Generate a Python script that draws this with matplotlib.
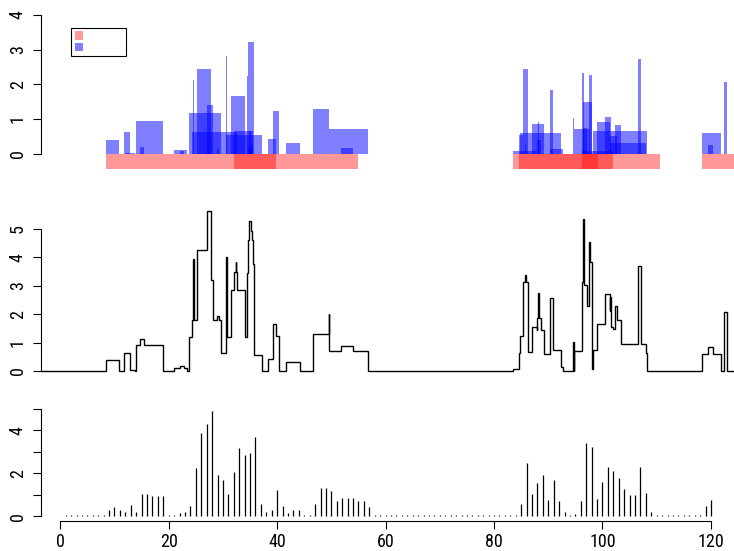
import numpy as np
import matplotlib
matplotlib.use("Agg")
import matplotlib.pyplot as plt
from matplotlib import font_manager
from matplotlib.patches import Patch

# intervals (start, end, score) drawn as translucent boxes
blue_start = [8.42, 11.74, 11.93, 13.95, 14.64, 20.96, 22.06, 23.67, 24.30, 24.41,
              25.14, 27.10, 28.83, 30.49, 30.49, 31.47, 32.07, 32.39, 34.36, 34.60,
              34.65, 34.84, 35.21, 38.29, 39.15, 41.60, 46.58, 49.53, 51.74,
              83.45, 84.55, 84.73, 85.35, 85.66, 86.95, 88.00, 88.06, 90.32, 90.25,
              94.56, 94.82, 96.22, 96.41, 96.41, 97.51, 96.22, 98.32, 99.06, 100.46,
              101.30, 101.40, 102.38, 106.62,
              118.29, 119.39, 122.33]
blue_end = [10.82, 12.85, 13.71, 18.93, 15.43, 23.30, 22.80, 29.72, 32.63, 24.59,
            27.78, 28.10, 29.31, 30.67, 37.24, 34.05, 35.52, 32.50, 34.60, 35.71,
            35.52, 35.21, 35.39, 39.76, 40.37, 44.18, 49.62, 56.72, 53.95,
            87.87, 85.35, 92.29, 86.21, 85.82, 89.15, 88.73, 88.22, 90.95, 92.66,
            94.78, 97.77, 96.67, 98.14, 97.14, 98.14, 101.88, 108.28, 101.30, 101.64,
            108.09, 102.75, 103.41, 107.04,
            121.79, 120.31, 122.89]
blue_height = [0.40, 0.63, 0.02, 0.93, 0.18, 0.11, 0.07, 1.18, 0.63, 2.12,
               2.44, 1.40, 0.14, 2.82, 0.55, 1.66, 0.65, 0.36, 2.24, 3.22,
               0.20, 0.65, 0.30, 0.42, 1.23, 0.31, 1.29, 0.71, 0.16,
               0.08, 0.54, 0.60, 2.44, 0.25, 0.86, 0.39, 0.91, 1.84, 0.13,
               1.03, 0.71, 2.33, 1.49, 0.75, 2.27, 0.08, 0.65, 0.91, 1.06,
               0.31, 0.51, 0.83, 2.73,
               0.60, 0.25, 2.07]

# regions drawn under the baseline
red_start = [8.42, 32.02, 83.45, 84.55, 96.20, 118.29]
red_end = [54.88, 39.76, 110.55, 101.90, 99.10, 124.90]

# per-position values
bin_pos = list(range(1, 121))
bin_value = [0.07, 0.07, 0.07, 0.07, 0.07, 0.07, 0.07, 0.07,
             0.28, 0.42, 0.31, 0.23, 0.52, 0.19, 1.05, 1.02, 0.96, 0.96, 0.93,
             0.07, 0.07,
             0.14, 0.19, 0.49, 2.27, 3.87, 4.29, 4.91, 1.91, 1.67, 1.06, 2.04,
             3.19, 2.85, 2.95, 3.69, 0.56, 0.22, 0.29, 1.23, 0.48, 0.17, 0.32, 0.32,
             0.07, 0.07,
             0.56, 1.30, 1.30, 1.16, 0.73, 0.85, 0.88, 0.86, 0.73, 0.73, 0.43,
             0.07, 0.07, 0.07, 0.07, 0.07, 0.07, 0.07, 0.07, 0.07, 0.07, 0.07, 0.07, 0.07,
             0.07, 0.07, 0.07, 0.07, 0.07, 0.07, 0.07, 0.07, 0.07, 0.07, 0.07, 0.07, 0.07,
             0.09, 0.59, 2.50, 1.06, 1.56, 1.93, 0.77, 1.70, 0.74, 0.19,
             0.07,
             0.12, 0.73, 3.41, 3.21, 0.82, 1.60, 2.28, 2.11, 1.79, 1.27, 1.00, 1.00,
             2.31, 1.08, 0.19,
             0.07, 0.07, 0.07, 0.07, 0.07, 0.07, 0.07, 0.07, 0.07,
             0.48, 0.76]

XLIM = (-3.61, 124.9)

# prefer a narrow sans for the tick numbers
names = {f.name for f in font_manager.fontManager.ttflist}
fam, fsize = "Liberation Sans", 12
for cand, size in [("Liberation Sans Narrow", 13), ("DejaVu Sans Condensed", 12.5),
                   ("Roboto Condensed", 13)]:
    if cand in names:
        fam, fsize = cand, size
        break
plt.rcParams["font.family"] = [fam, "DejaVu Sans"]

W, H = 734, 551
fig = plt.figure(figsize=(W / 100, H / 100), dpi=100)


def panel(left, top, right, bottom):
    return fig.add_axes([left / W, 1 - bottom / H, (right - left) / W, (bottom - top) / H])


def style(ax, yticks, ylabels, ybounds):
    ax.set_xlim(*XLIM)
    for s in ("top", "right", "bottom"):
        ax.spines[s].set_visible(False)
    ax.spines["left"].set_linewidth(0.8)
    ax.spines["left"].set_bounds(*ybounds)
    ax.set_xticks([])
    ax.set_yticks(yticks)
    ax.set_yticklabels(ylabels, rotation=90, va="center")
    ax.tick_params(axis="y", length=5.5, width=0.8, pad=4.5, labelsize=fsize)


# top: boxes
ax1 = panel(40.7, 8.7, 737.5, 177.3)
rs = np.array(red_start)
re = np.array(red_end)
ax1.bar(rs, 0.44, width=re - rs, bottom=-0.44, align="edge",
        color="red", alpha=0.4, linewidth=0)
bs = np.array(blue_start)
be = np.array(blue_end)
ax1.bar(bs, blue_height, width=be - bs, align="edge",
        color="blue", alpha=0.5, linewidth=0)
ax1.set_ylim(-0.68, 4.18)
style(ax1, [0, 1, 2, 3, 4], ["0", "1", "2", "3", "4"], (0, 4))
leg = ax1.legend([Patch(facecolor="red", alpha=0.4, edgecolor="none"),
                  Patch(facecolor="blue", alpha=0.5, edgecolor="none")],
                 ["", ""], loc="upper left",
                 bbox_to_anchor=(71.3 / W, 1 - 28 / H), bbox_transform=fig.transFigure,
                 borderaxespad=0, fontsize=8, handlelength=0.78, handleheight=0.78,
                 handletextpad=3.5, borderpad=0.31, labelspacing=0.1,
                 fancybox=False, framealpha=1, edgecolor="black")
leg.get_frame().set_linewidth(0.8)

# middle: summed score along the axis
edges = np.unique(np.concatenate([bs, be, XLIM]))
mids = (edges[:-1] + edges[1:]) / 2
cover = [sum(h for s, e, h in zip(bs, be, blue_height) if s <= m < e) for m in mids]
ax2 = panel(40.7, 204, 737.5, 377.4)
ax2.stairs(cover, edges, baseline=None, color="black", linewidth=1.0)
ax2.set_ylim(-0.226, 5.88)
style(ax2, [0, 1, 2, 3, 4, 5], ["0", "1", "2", "3", "4", "5"], (0, 5))

# bottom: values per position
ax3 = panel(40.7, 406.3, 737.5, 520.7)
ax3.vlines(bin_pos, 0, bin_value, colors="black", linewidth=0.9)
ax3.set_ylim(-0.196, 5.11)
style(ax3, [0, 1, 2, 3, 4, 5], ["0", "", "2", "", "4", ""], (0, 5))
ax3.spines["bottom"].set_visible(True)
ax3.spines["bottom"].set_linewidth(0.8)
ax3.spines["bottom"].set_bounds(0, 120)
ax3.set_xticks([0, 20, 40, 60, 80, 100, 120])
ax3.tick_params(axis="x", length=5.5, width=0.8, pad=3.5, labelsize=fsize)

fig.savefig("out.png", dpi=100)
